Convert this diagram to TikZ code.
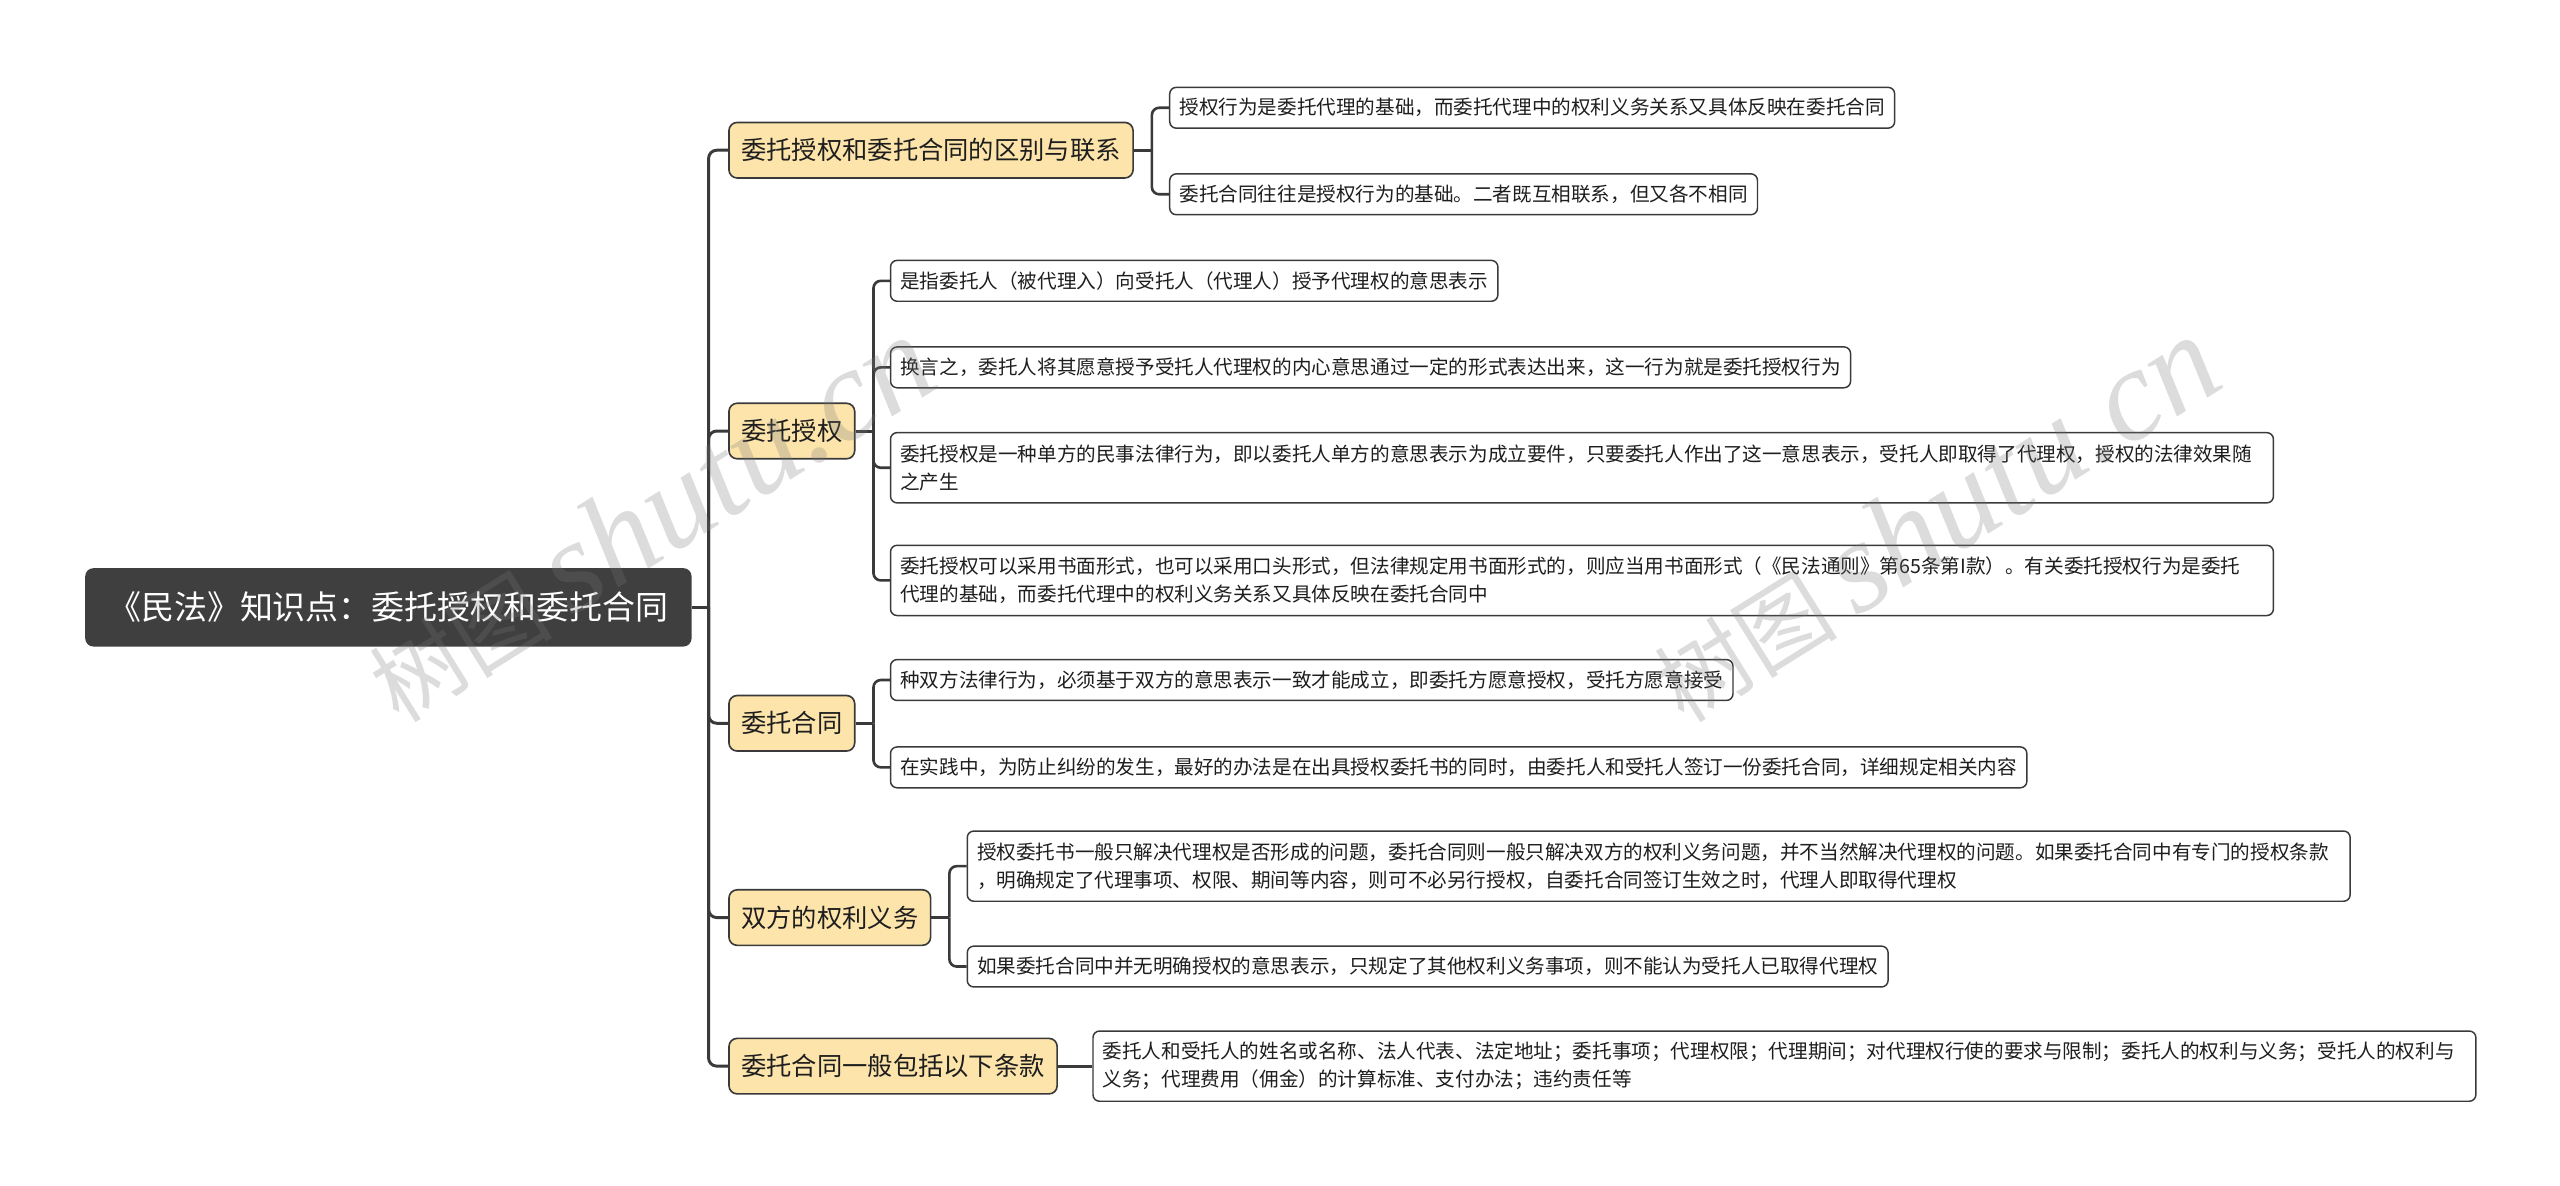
\documentclass[tikz,border=0pt]{standalone}
\usepackage{fontspec}
\setmainfont{Noto Sans CJK SC}
\newfontfamily\wmlatin{Liberation Serif}
\definecolor{linec}{RGB}{58,58,58}
\definecolor{textc}{RGB}{30,30,30}
\definecolor{rootfill}{RGB}{63,63,63}
\definecolor{mainfill}{RGB}{252,228,171}
\definecolor{wmc}{RGB}{120,120,120}
\begin{document}
\begin{tikzpicture}[x=1pt,y=-1pt,
  rootbox/.style={draw=none, fill=rootfill, rounded corners=5pt, text=white,
    font=\fontsize{20.2}{24}\selectfont, inner xsep=14pt, inner ysep=0pt,
    minimum height=48pt, anchor=west},
  mainbox/.style={draw=linec, line width=1pt, fill=mainfill, rounded corners=5pt,
    font=\fontsize{15.5}{19}\selectfont, inner xsep=7.5pt, inner ysep=0pt,
    minimum height=34pt, anchor=west, text=textc},
  leafbox/.style={draw=linec, line width=0.9pt, fill=white, rounded corners=4pt,
    font=\fontsize{12}{17}\selectfont, inner xsep=6pt, inner ysep=0pt,
    minimum height=25pt, anchor=west, text=textc},
  leaftwo/.style={leafbox, minimum height=43pt, text width=835pt, align=left},
  trunk/.style={draw=linec, line width=1.8pt},
  twig/.style={draw=linec, line width=1.6pt, rounded corners=4.5pt},
  wm/.style={text=wmc, text opacity=0.26, inner sep=0pt},
]
\fill[white] (0,0) rectangle (1568,726.4);
\useasboundingbox (0,0) rectangle (1568,726.4);

% root
\node[rootbox] (root) at (52,372) {《民法》知识点：委托授权和委托合同};

% level 1
\node[mainbox] (m1) at (446,92) {委托授权和委托合同的区别与联系};
\node[mainbox] (m2) at (446,264) {委托授权};
\node[mainbox] (m3) at (446,443) {委托合同};
\node[mainbox] (m4) at (446,562) {双方的权利义务};
\node[mainbox] (m5) at (446,653) {委托合同一般包括以下条款};

% level 2
\node[leafbox] (a1) at (716,66) {授权行为是委托代理的基础，而委托代理中的权利义务关系又具体反映在委托合同};
\node[leafbox] (a2) at (716,119) {委托合同往往是授权行为的基础。二者既互相联系，但又各不相同};

\node[leafbox] (b1) at (545,172) {是指委托人（被代理入）向受托人（代理人）授予代理权的意思表示};
\node[leafbox] (b2) at (545,225) {换言之，委托人将其愿意授予受托人代理权的内心意思通过一定的形式表达出来，这一行为就是委托授权行为};
\node[leaftwo] (b3) at (545,286.5) {委托授权是一种单方的民事法律行为，即以委托人单方的意思表示为成立要件，只要委托人作出了这一意思表示，受托人即取得了代理权，授权的法律效果随\\之产生};
\node[leaftwo] (b4) at (545,355.5) {委托授权可以采用书面形式，也可以采用口头形式，但法律规定用书面形式的，则应当用书面形式（《民法通则》第65条第I款）。有关委托授权行为是委托\\代理的基础，而委托代理中的权利义务关系又具体反映在委托合同中};

\node[leafbox] (c1) at (545,416.5) {种双方法律行为，必须基于双方的意思表示一致才能成立，即委托方愿意授权，受托方愿意接受};
\node[leafbox] (c2) at (545,470) {在实践中，为防止纠纷的发生，最好的办法是在出具授权委托书的同时，由委托人和受托人签订一份委托合同，详细规定相关内容};

\node[leaftwo] (d1) at (592,530.5) {授权委托书一般只解决代理权是否形成的问题，委托合同则一般只解决双方的权利义务问题，并不当然解决代理权的问题。如果委托合同中有专门的授权条款\\，明确规定了代理事项、权限、期间等内容，则可不必另行授权，自委托合同签订生效之时，代理人即取得代理权};
\node[leafbox] (d2) at (592,592) {如果委托合同中并无明确授权的意思表示，只规定了其他权利义务事项，则不能认为受托人已取得代理权};

\node[leaftwo] (e1) at (669,653) {委托人和受托人的姓名或名称、法人代表、法定地址；委托事项；代理权限；代理期间；对代理权行使的要求与限制；委托人的权利与义务；受托人的权利与\\义务；代理费用（佣金）的计算标准、支付办法；违约责任等};

% connectors root -> level 1
\coordinate (rj) at (434,372);
\draw[trunk] (root.east) -- (rj);
\foreach \m in {m1,m2,m3,m4,m5}
  \draw[trunk, rounded corners=5pt] (rj) |- (\m.west);

% level 1 -> level 2
\path (m1.east) ++(11,0) coordinate (j1);
\path (m2.east) ++(11,0) coordinate (j2);
\path (m3.east) ++(11,0) coordinate (j3);
\path (m4.east) ++(11,0) coordinate (j4);
\draw[trunk] (m1.east) -- (j1);
\draw[trunk] (m2.east) -- (j2);
\draw[trunk] (m3.east) -- (j3);
\draw[trunk] (m4.east) -- (j4);
\foreach \c in {a1,a2} \draw[twig] (j1) |- (\c.west);
\foreach \c in {b1,b2,b3,b4} \draw[twig] (j2) |- (\c.west);
\foreach \c in {c1,c2} \draw[twig] (j3) |- (\c.west);
\foreach \c in {d1,d2} \draw[twig] (j4) |- (\c.west);
\draw[trunk] (m5.east) -- (e1.west);

% watermarks
\node[wm, rotate=32] (wm1) at (398,318) {{\fontsize{56}{56}\selectfont 树图}\hspace{12pt}{\fontsize{80}{80}\wmlatin\itshape shutu.cn}};
\node[wm, rotate=32] (wm2) at (1185,318) {{\fontsize{56}{56}\selectfont 树图}\hspace{12pt}{\fontsize{80}{80}\wmlatin\itshape shutu.cn}};
\end{tikzpicture}
\end{document}
